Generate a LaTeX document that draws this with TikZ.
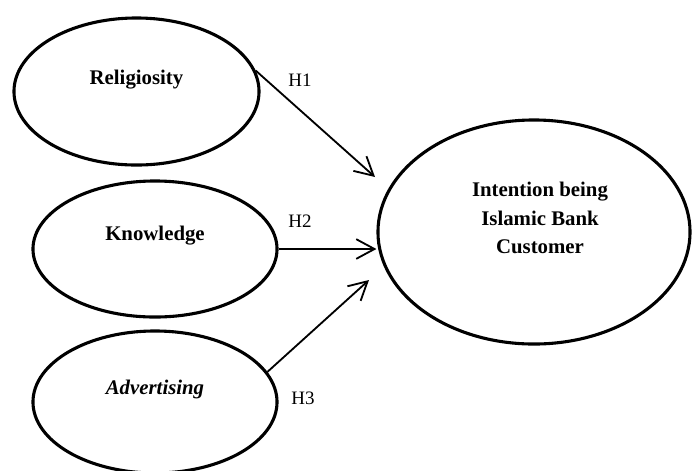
\documentclass[tikz,border=0pt]{standalone}
\usepackage{fontspec}
\setmainfont{Liberation Serif}
\usetikzlibrary{positioning}
\usetikzlibrary{calc}
\usetikzlibrary{shapes.geometric}
\usetikzlibrary{arrows.meta}
\tikzset{>={Straight Barb[length=13pt,width=14pt]}}
\tikzset{construct/.style={ellipse, draw, line width=2.2pt}}
\tikzset{title/.style={font=\fontsize{14.8}{20.2}\selectfont\bfseries, align=center}}
\tikzset{hyp/.style={font=\fontsize{13.5}{16}\selectfont}}
\tikzset{link/.style={->, line width=1.3pt}}

\begin{document}
\begin{tikzpicture}[x=0.025cm, y=-0.025cm]
    \useasboundingbox (0,0) rectangle (693,470);

    % Nodes
    \node [construct, minimum width=6.125cm, minimum height=3.675cm] (relig) at (136.5,91.5) {};
    \node [construct, minimum width=6.1cm, minimum height=3.4cm] (know) at (155,249) {};
    \node [construct, minimum width=6.1cm, minimum height=3.55cm] (adv) at (155,402) {};
    \node [construct, minimum width=7.8cm, minimum height=5.6cm] (intent) at (534,232) {};

    % Titles
    \node [title] (relig-t) at ($(relig) + (0,-12)$) {Religiosity};
    \node [title] (know-t) at ($(know) + (0,-13)$) {Knowledge};
    \node [title] (adv-t) at ($(adv) + (0,-13)$) {\itshape Advertising};
    \node [title] (intent-t) at ($(intent) + (6,-14)$) {Intention being\\Islamic Bank\\Customer};

    % Arrow ends
    \coordinate (h1-end) at (375,177);
    \coordinate (h3-end) at (369,280);

    % Arrows between nodes
    \draw [link] (relig.10) -- (h1-end);
    \draw [link] (know.east) -- (know.east -| intent.west);
    \draw [link] (adv.15) -- (h3-end);

    % Hypothesis labels
    \node [hyp] (h1) at (300,80) {H1};
    \node [hyp] (h2) at (300,221) {H2};
    \node [hyp] (h3) at (303,398) {H3};

\end{tikzpicture}
\end{document}
